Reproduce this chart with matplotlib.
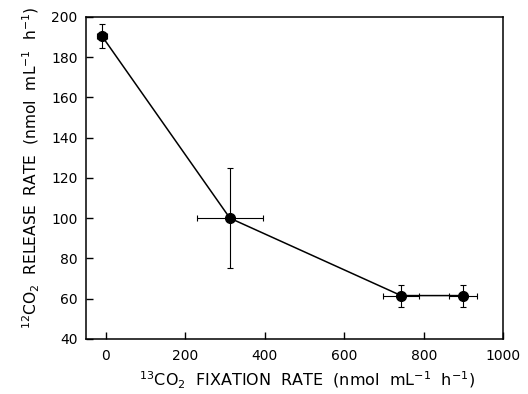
import matplotlib
matplotlib.use("Agg")
import matplotlib.pyplot as plt

x_fix = [-10, 312, 743, 899]
y_rel = [190.5, 100, 61.5, 61.5]
x_err = [13, 84, 45, 35]
y_err = [6, 25, 5.5, 5.5]

x_ticks = [0, 200, 400, 600, 800, 1000]
y_ticks = [40, 60, 80, 100, 120, 140, 160, 180, 200]

plt.rcParams['font.family'] = ['DejaVu Sans']
plt.rcParams['mathtext.default'] = 'regular'

fig = plt.figure(figsize=(5.28, 3.94), dpi=100)
ax = fig.add_axes([0.163, 0.140, 0.790, 0.817])

ax.errorbar(x_fix, y_rel, xerr=x_err, yerr=y_err, fmt='none', ecolor='black',
            elinewidth=0.8, capsize=2.5, capthick=0.8, zorder=2)
ax.plot(x_fix, y_rel, color='black', lw=1.1, marker='o', markersize=7,
        markerfacecolor='black', zorder=3)

ax.set_xlim(-50, 1000)
ax.set_ylim(40, 200)
ax.set_xticks(x_ticks)
ax.set_yticks(y_ticks)
ax.tick_params(direction='in', length=5, width=1, labelsize=10)
ax.tick_params(axis='x', pad=7)
ax.tick_params(axis='y', pad=6)
for s in ax.spines.values():
    s.set_linewidth(1.1)

ax.set_xlabel('$^{13}$CO$_2$  FIXATION  RATE  (nmol  mL$^{-1}$  h$^{-1}$)', fontsize=11.5, labelpad=5)
ax.set_ylabel('$^{12}$CO$_2$  RELEASE  RATE  (nmol  mL$^{-1}$  h$^{-1}$)', fontsize=11.2, labelpad=7)
ax.xaxis.label.set_x(0.53)
ax.yaxis.label.set_y(0.53)

fig.savefig('out.png', dpi=100)
